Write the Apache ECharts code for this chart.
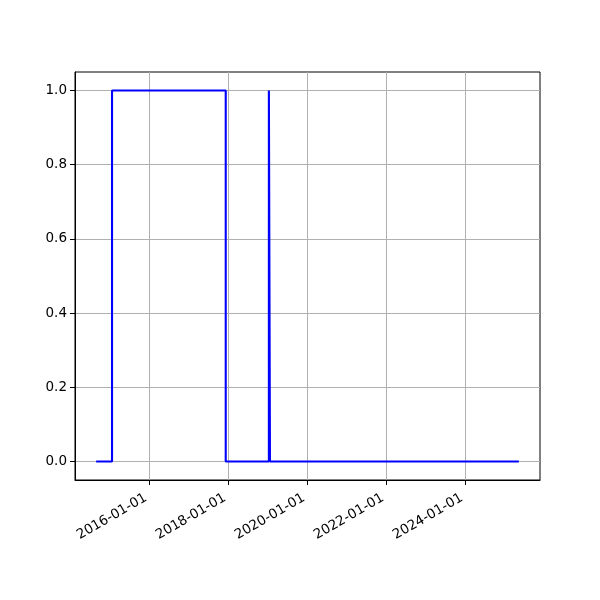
<!DOCTYPE html>
<html><head><meta charset="utf-8">
<script src="https://cdn.jsdelivr.net/npm/echarts@6/dist/echarts.min.js"></script>
<style>html,body{margin:0;padding:0;background:#fff}#c{width:600px;height:600px}</style>
</head><body><div id="c"></div>
<script>
const dates = ['2014-08-27','2015-01-21','2017-12-07','2019-01-10','2019-01-20','2025-05-09'];
const values = [0, 1, 0, 1, 0, 0];
const xTicks = ['2016-01-01','2018-01-01','2020-01-01','2022-01-01','2024-01-01'];
const yTicks = [0, 0.2, 0.4, 0.6, 0.8, 1.0];

const ts = d => new Date(d + 'T00:00:00Z').getTime();
const t0 = ts(dates[0]), t1 = ts(dates[dates.length-1]);
const pad = (t1 - t0) * 0.05;
const fmtDate = v => { const d = new Date(v); const p = n => String(n).padStart(2,'0'); return d.getUTCFullYear()+'-'+p(d.getUTCMonth()+1)+'-'+p(d.getUTCDate()); };

const chart = echarts.init(document.getElementById('c'), null, {renderer:'canvas'});
chart.setOption({
  animation: false,
  grid: {left: 75, right: 60, top: 72, bottom: 120, show: true, borderColor: '#000', borderWidth: 1, backgroundColor: 'transparent'},
  xAxis: {
    type: 'value', min: t0 - pad, max: t1 + pad,
    axisLine: {show: true, onZero: false, lineStyle: {color: '#000', width: 1}},
    axisTick: {show: true, length: 5, lineStyle: {color: '#000'}, customValues: xTicks.map(ts)},
    axisLabel: {show: true, rotate: 30, color: '#000', fontFamily: 'DejaVu Sans', fontSize: 13.5, margin: 15, customValues: xTicks.map(ts), formatter: v => '{t|' + fmtDate(v) + '}', rich: {t: {fontFamily: 'DejaVu Sans', fontSize: 13.5, color: '#000', padding: [0, 4, 0, 0]}}},
    splitLine: {show: true, lineStyle: {color: '#b0b0b0', width: 1}}
  },
  yAxis: {
    type: 'value', min: -0.05, max: 1.05,
    axisLine: {show: true, onZero: false, lineStyle: {color: '#000', width: 1}},
    axisTick: {show: true, length: 5, lineStyle: {color: '#000'}, customValues: yTicks},
    axisLabel: {show: true, color: '#000', fontFamily: 'DejaVu Sans', fontSize: 13.5, margin: 8, customValues: yTicks, formatter: v => v.toFixed(1)},
    splitLine: {show: true, lineStyle: {color: '#b0b0b0', width: 1}}
  },
  series: [{
    type: 'line', step: 'end', showSymbol: false, symbol: 'none',
    data: dates.map((d,i) => [ts(d), values[i]]),
    lineStyle: {color: '#0000ff', width: 2.1},
    itemStyle: {color: '#0000ff'}
  }]
});
</script></body></html>
